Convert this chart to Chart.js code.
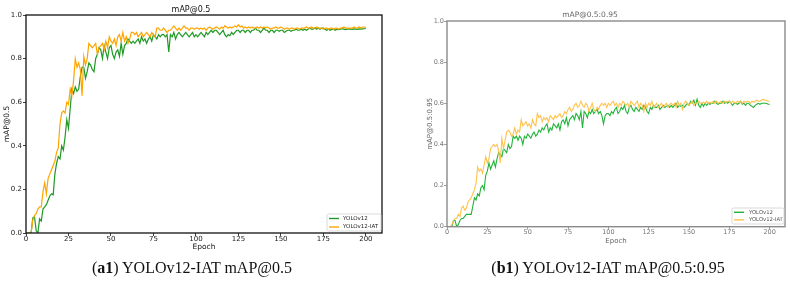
<!DOCTYPE html>
<html>
<head>
<meta charset="utf-8">
<script src="https://cdn.jsdelivr.net/npm/chart.js@4/dist/chart.umd.min.js"></script>
<style>
  html, body { margin: 0; padding: 0; background: #fff; }
  body { width: 790px; height: 284px; position: relative; overflow: hidden; }
  canvas { position: absolute; top: 0; }
  #c1 { left: 0; }
  #c2 { left: 395px; }
  .cap { position: absolute; top: 259px; font-family: "Liberation Serif", "DejaVu Serif", serif; font-size: 16px; color: #111; white-space: nowrap; transform: translateX(-50%); }
</style>
</head>
<body>
<canvas id="c1" width="395" height="260"></canvas>
<canvas id="c2" width="395" height="260"></canvas>
<div class="cap" style="left:192px">(<b>a1</b>) YOLOv12-IAT mAP@0.5</div>
<div class="cap" style="left:608px">(<b>b1</b>) YOLOv12-IAT mAP@0.5:0.95</div>
<script>
// ---------- data ----------
const epochs = Array.from({length: 200}, (_, i) => i + 1);
const xTicks = [0, 25, 50, 75, 100, 125, 150, 175, 200];
const yTicks = [0.0, 0.2, 0.4, 0.6, 0.8, 1.0];
const seriesNames = ["YOLOv12", "YOLOv12-IAT"];

const map50_yolov12 = [
  0, 0, 0, 0.07, 0.075, 0.01, 0, 0.065, 0.055, 0.11,
  0.12, 0.13, 0.15, 0.17, 0.18, 0.175, 0.27, 0.32, 0.35, 0.34,
  0.40, 0.38, 0.44, 0.52, 0.48, 0.57, 0.66, 0.64, 0.67, 0.65,
  0.66, 0.72, 0.76, 0.76, 0.71, 0.74, 0.78, 0.77, 0.75, 0.74,
  0.80, 0.82, 0.85, 0.84, 0.80, 0.86, 0.83, 0.80, 0.85, 0.86,
  0.82, 0.80, 0.83, 0.84, 0.81, 0.87, 0.82, 0.86, 0.87, 0.89,
  0.88, 0.87, 0.88, 0.87, 0.88, 0.89, 0.87, 0.90, 0.88, 0.89,
  0.87, 0.89, 0.90, 0.88, 0.91, 0.90, 0.89, 0.91, 0.90, 0.91,
  0.91, 0.90, 0.91, 0.83, 0.91, 0.90, 0.92, 0.89, 0.91, 0.92,
  0.91, 0.90, 0.91, 0.92, 0.91, 0.90, 0.91, 0.92, 0.90, 0.91,
  0.90, 0.91, 0.92, 0.91, 0.90, 0.92, 0.91, 0.92, 0.93, 0.92,
  0.93, 0.93, 0.92, 0.91, 0.92, 0.93, 0.91, 0.90, 0.91, 0.905,
  0.92, 0.91, 0.92, 0.93, 0.93, 0.92, 0.93, 0.93, 0.92, 0.93,
  0.93, 0.92, 0.93, 0.93, 0.94, 0.93, 0.93, 0.92, 0.93, 0.94,
  0.93, 0.93, 0.92, 0.93, 0.93, 0.92, 0.93, 0.93, 0.925, 0.93,
  0.93, 0.92, 0.925, 0.93, 0.93, 0.925, 0.93, 0.93, 0.935, 0.93,
  0.93, 0.935, 0.93, 0.935, 0.93, 0.935, 0.94, 0.935, 0.935, 0.94,
  0.935, 0.94, 0.935, 0.94, 0.94, 0.935, 0.93, 0.935, 0.93, 0.935,
  0.935, 0.93, 0.935, 0.933, 0.935, 0.937, 0.935, 0.933, 0.935, 0.936,
  0.935, 0.934, 0.936, 0.935, 0.934, 0.936, 0.935, 0.936, 0.937, 0.938
];
const map50_iat = [
  0, 0, 0, 0.06, 0.08, 0.09, 0.11, 0.12, 0.12, 0.19,
  0.23, 0.18, 0.25, 0.27, 0.29, 0.31, 0.33, 0.37, 0.39, 0.50,
  0.55, 0.56, 0.55, 0.60, 0.59, 0.66, 0.63, 0.70, 0.80, 0.76,
  0.78, 0.75, 0.63, 0.81, 0.77, 0.80, 0.87, 0.86, 0.85, 0.86,
  0.87, 0.82, 0.85, 0.86, 0.87, 0.84, 0.88, 0.85, 0.90, 0.88,
  0.87, 0.89, 0.86, 0.90, 0.91, 0.88, 0.92, 0.88, 0.90, 0.87,
  0.89, 0.92, 0.92, 0.91, 0.92, 0.90, 0.91, 0.92, 0.90, 0.91,
  0.92, 0.91, 0.90, 0.92, 0.91, 0.90, 0.94, 0.94, 0.93, 0.93,
  0.94, 0.93, 0.92, 0.93, 0.93, 0.94, 0.95, 0.94, 0.93, 0.94,
  0.93, 0.94, 0.95, 0.94, 0.94, 0.93, 0.94, 0.94, 0.935, 0.94,
  0.94, 0.935, 0.94, 0.935, 0.94, 0.93, 0.94, 0.945, 0.94, 0.935,
  0.94, 0.945, 0.94, 0.935, 0.945, 0.94, 0.95, 0.945, 0.94, 0.945,
  0.94, 0.945, 0.95, 0.945, 0.955, 0.945, 0.95, 0.94, 0.945, 0.94,
  0.945, 0.94, 0.945, 0.94, 0.94, 0.945, 0.94, 0.945, 0.94, 0.945,
  0.94, 0.945, 0.94, 0.935, 0.94, 0.94, 0.945, 0.94, 0.94, 0.945,
  0.94, 0.935, 0.94, 0.94, 0.935, 0.94, 0.94, 0.935, 0.94, 0.94,
  0.935, 0.94, 0.94, 0.94, 0.945, 0.94, 0.94, 0.945, 0.94, 0.94,
  0.945, 0.94, 0.94, 0.94, 0.935, 0.94, 0.94, 0.935, 0.94, 0.94,
  0.935, 0.94, 0.94, 0.935, 0.94, 0.94, 0.945, 0.94, 0.94, 0.94,
  0.94, 0.94, 0.945, 0.94, 0.94, 0.945, 0.94, 0.945, 0.945, 0.942
];
const map5095_yolov12 = [
  0, 0, 0, 0.03, 0.03, 0, 0.01, 0.03, 0.04, 0.04,
  0.05, 0.06, 0.06, 0.06, 0.06, 0.10, 0.14, 0.13, 0.16, 0.15,
  0.19, 0.20, 0.18, 0.25, 0.27, 0.31, 0.28, 0.30, 0.32, 0.29,
  0.33, 0.36, 0.35, 0.34, 0.38, 0.37, 0.36, 0.40, 0.38, 0.39,
  0.44, 0.43, 0.44, 0.42, 0.44, 0.43, 0.40, 0.44, 0.43, 0.45,
  0.44, 0.43, 0.45, 0.46, 0.44, 0.45, 0.47, 0.46, 0.48, 0.47,
  0.49, 0.50, 0.46, 0.48, 0.47, 0.50, 0.49, 0.48, 0.50, 0.47,
  0.51, 0.52, 0.50, 0.53, 0.49, 0.52, 0.53, 0.54, 0.52, 0.55,
  0.54, 0.52, 0.56, 0.48, 0.56, 0.55, 0.53, 0.56, 0.55, 0.57,
  0.55, 0.56, 0.57, 0.55, 0.56, 0.54, 0.50, 0.54, 0.55, 0.55,
  0.54, 0.56, 0.55, 0.57, 0.58, 0.55, 0.56, 0.58, 0.57, 0.59,
  0.56, 0.55, 0.58, 0.59, 0.57, 0.56, 0.58, 0.57, 0.56, 0.58,
  0.57, 0.59, 0.58, 0.56, 0.55, 0.58, 0.57, 0.59, 0.58, 0.58,
  0.59, 0.57, 0.58, 0.59, 0.58, 0.585, 0.59, 0.58, 0.59, 0.58,
  0.59, 0.60, 0.58, 0.59, 0.585, 0.59, 0.58, 0.59, 0.60, 0.59,
  0.61, 0.60, 0.615, 0.59, 0.62, 0.59, 0.58, 0.60, 0.585, 0.60,
  0.59, 0.60, 0.595, 0.60, 0.60, 0.61, 0.60, 0.595, 0.60, 0.60,
  0.61, 0.60, 0.605, 0.60, 0.61, 0.60, 0.59, 0.60, 0.60, 0.595,
  0.60, 0.61, 0.595, 0.60, 0.59, 0.60, 0.60, 0.59, 0.585, 0.58,
  0.59, 0.595, 0.60, 0.595, 0.60, 0.60, 0.60, 0.60, 0.595, 0.595
];
const map5095_iat = [
  0, 0, 0.01, 0.03, 0.04, 0.04, 0.06, 0.05, 0.09, 0.10,
  0.08, 0.09, 0.12, 0.13, 0.14, 0.16, 0.18, 0.21, 0.29, 0.27,
  0.28, 0.26, 0.30, 0.34, 0.31, 0.33, 0.38, 0.39, 0.40, 0.39,
  0.40, 0.37, 0.31, 0.43, 0.38, 0.42, 0.46, 0.47, 0.46, 0.44,
  0.45, 0.48, 0.45, 0.47, 0.46, 0.52, 0.49, 0.50, 0.51, 0.49,
  0.50, 0.48, 0.52, 0.50, 0.49, 0.55, 0.53, 0.54, 0.51, 0.53,
  0.52, 0.53, 0.51, 0.54, 0.53, 0.52, 0.54, 0.53, 0.54, 0.55,
  0.53, 0.54, 0.56, 0.55, 0.57, 0.58, 0.56, 0.57, 0.59, 0.60,
  0.58, 0.59, 0.61, 0.59, 0.58, 0.60, 0.59, 0.56, 0.58, 0.60,
  0.57, 0.56, 0.58, 0.57, 0.59, 0.60, 0.59, 0.60, 0.58, 0.60,
  0.59, 0.60, 0.61, 0.59, 0.60, 0.58, 0.60, 0.59, 0.61, 0.60,
  0.59, 0.60, 0.58, 0.61, 0.60, 0.59, 0.60, 0.61, 0.58, 0.60,
  0.59, 0.56, 0.60, 0.58, 0.60, 0.59, 0.61, 0.58, 0.59, 0.60,
  0.58, 0.59, 0.60, 0.58, 0.59, 0.60, 0.58, 0.595, 0.60, 0.59,
  0.60, 0.58, 0.61, 0.59, 0.60, 0.57, 0.60, 0.61, 0.60, 0.59,
  0.60, 0.61, 0.59, 0.60, 0.60, 0.61, 0.60, 0.60, 0.605, 0.60,
  0.61, 0.60, 0.605, 0.60, 0.61, 0.60, 0.61, 0.60, 0.605, 0.61,
  0.60, 0.61, 0.605, 0.61, 0.61, 0.60, 0.61, 0.605, 0.60, 0.61,
  0.605, 0.61, 0.60, 0.61, 0.605, 0.61, 0.61, 0.60, 0.61, 0.605,
  0.61, 0.615, 0.61, 0.61, 0.615, 0.62, 0.615, 0.615, 0.61, 0.61
];

// ---------- helpers ----------
const toXY = arr => arr.map((v, i) => ({x: epochs[i], y: v}));

function makeChart(id, cfg) {
  const framePlugin = {
    id: 'frameAndLegend',
    afterDatasetsDraw(chart) {
      const {ctx, chartArea: a} = chart;
      ctx.save();
      ctx.strokeStyle = cfg.frameColor;
      ctx.lineWidth = cfg.frameWidth;
      ctx.strokeRect(a.left, a.top, a.right - a.left, a.bottom - a.top);
      // legend box, lower right
      const L = cfg.legend;
      const bx = a.right - L.right - L.w, by = a.bottom - L.bottom - L.h;
      ctx.fillStyle = 'rgba(255,255,255,0.85)';
      ctx.strokeStyle = '#d0d0d0';
      ctx.lineWidth = 0.8;
      ctx.beginPath();
      if (ctx.roundRect) ctx.roundRect(bx, by, L.w, L.h, 1.5); else ctx.rect(bx, by, L.w, L.h);
      ctx.fill(); ctx.stroke();
      ctx.font = L.font + 'px "DejaVu Sans"';
      ctx.textBaseline = 'middle';
      chart.data.datasets.forEach((ds, i) => {
        const yy = by + L.firstY + i * L.gap;
        ctx.strokeStyle = ds.borderColor;
        ctx.lineWidth = 1.4;
        ctx.beginPath();
        ctx.moveTo(bx + 2, yy);
        ctx.lineTo(bx + 2 + L.lineLen, yy);
        ctx.stroke();
        ctx.fillStyle = cfg.legendText;
        ctx.fillText(ds.label, bx + 2 + L.lineLen + L.textGap, yy);
      });
      ctx.restore();
    }
  };
  return new Chart(document.getElementById(id), {
    type: 'line',
    data: {
      datasets: [
        {label: seriesNames[0], data: toXY(cfg.s1), borderColor: cfg.c1, borderWidth: cfg.lw, pointRadius: 0, tension: 0, order: 1},
        {label: seriesNames[1], data: toXY(cfg.s2), borderColor: cfg.c2, borderWidth: cfg.lw, pointRadius: 0, tension: 0, order: 0}
      ]
    },
    options: {
      responsive: false,
      animation: false,
      devicePixelRatio: 1,
      layout: {padding: cfg.pad},
      plugins: {
        legend: {display: false},
        tooltip: {enabled: false},
        title: {
          display: true, text: cfg.title, color: cfg.titleColor,
          font: {family: 'DejaVu Sans', size: cfg.titleSize, weight: 'normal'},
          padding: cfg.titlePad
        }
      },
      scales: {
        x: {
          type: 'linear', min: 0, max: 209.5,
          afterBuildTicks: s => { s.ticks = xTicks.map(v => ({value: v})); },
          afterFit: s => { s.height = cfg.xH; },
          ticks: {color: cfg.tickColor, font: {family: 'DejaVu Sans', size: cfg.tickSize}, padding: cfg.xTickPad, maxRotation: 0, autoSkip: false},
          grid: {drawOnChartArea: false, drawTicks: true, tickLength: 3, color: cfg.frameColor, lineWidth: 0.8},
          border: {display: false},
          title: {display: true, text: 'Epoch', color: cfg.titleColor, font: {family: 'DejaVu Sans', size: cfg.labelSize}, padding: {top: 0, bottom: 0}}
        },
        y: {
          type: 'linear', min: 0, max: 1,
          afterBuildTicks: s => { s.ticks = yTicks.map(v => ({value: v})); },
          afterFit: s => { s.width = cfg.yW; },
          ticks: {color: cfg.tickColor, font: {family: 'DejaVu Sans', size: cfg.tickSize}, padding: cfg.yTickPad, callback: v => Number(v).toFixed(1)},
          grid: {drawOnChartArea: false, drawTicks: true, tickLength: 3, color: cfg.frameColor, lineWidth: 0.8},
          border: {display: false},
          title: {display: true, text: cfg.yTitle, color: cfg.titleColor, font: {family: 'DejaVu Sans', size: cfg.labelSize}, padding: {top: cfg.yTitlePadTop, bottom: 0}}
        }
      }
    },
    plugins: [framePlugin]
  });
}

makeChart('c1', {
  s1: map50_yolov12, s2: map50_iat,
  c1: '#1f9a24', c2: '#ffa500', lw: 1.2,
  title: 'mAP@0.5', yTitle: 'mAP@0.5',
  titleSize: 8, labelSize: 7.5, tickSize: 7,
  titlePad: {top: 5, bottom: 0.4},
  titleColor: '#111', tickColor: '#222',
  frameColor: '#111', frameWidth: 1.3,
  pad: {left: 0, right: 13, top: 0, bottom: 8.5},
  xH: 18.5, yW: 26, xTickPad: -1.5, yTickPad: 1, yTitlePadTop: 2.5,
  legendText: '#222',
  legend: {w: 54, h: 17, right: 1, bottom: 2, firstY: 4.5, gap: 8.5, lineLen: 10, textGap: 4, font: 5.5}
});

makeChart('c2', {
  s1: map5095_yolov12, s2: map5095_iat,
  c1: '#22b43a', c2: '#ffc24d', lw: 1.1,
  title: 'mAP@0.5:0.95', yTitle: 'mAP@0.5:0.95',
  titleSize: 7.5, labelSize: 7, tickSize: 6.5,
  titlePad: {top: 10.5, bottom: 1.5},
  titleColor: '#666', tickColor: '#777',
  frameColor: '#8a8a8a', frameWidth: 1.4,
  pad: {left: 0, right: 5, top: 0, bottom: 15.1},
  xH: 18.2, yW: 52, xTickPad: -1.3, yTickPad: 0, yTitlePadTop: 30.8,
  legendText: '#555',
  legend: {w: 52, h: 16, right: 1, bottom: 2.7, firstY: 4.3, gap: 7.5, lineLen: 10, textGap: 5, font: 5.3}
});
</script>
</body>
</html>
